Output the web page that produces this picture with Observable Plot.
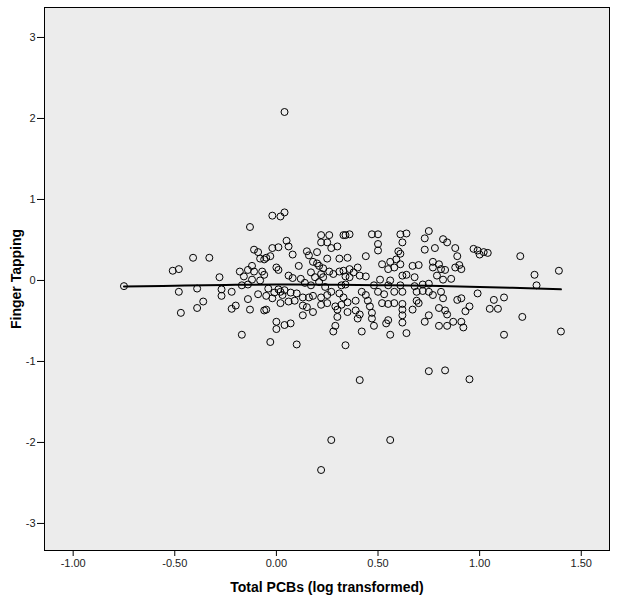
<!DOCTYPE html>
<html>
<head>
<meta charset="utf-8">
<script src="https://cdn.jsdelivr.net/npm/d3@7"></script>
<script src="https://cdn.jsdelivr.net/npm/@observablehq/plot@0.6"></script>
<style>
  html, body { margin: 0; padding: 0; background: #ffffff; }
  #chart { width: 617px; height: 603px; }
</style>
</head>
<body>
<div id="chart"></div>
<script>
// Total PCBs (log transformed) and Finger Tapping
const pcb = [
  -0.75,-0.41,-0.33,-0.51,-0.48,-0.28,-0.48,-0.39,-0.36,-0.39,-0.47,-0.27,-0.27,
  -0.13,-0.02,0.02,0.04,0.05,0.06,-0.02,0.01,-0.11,-0.09,0.08,-0.08,-0.06,-0.05,-0.03,
  0.22,0.26,0.22,0.25,0.27,0.30,0.33,0.15,0.16,0.20,0.11,0.25,0.31,0.18,0.20,0.21,0.23,
  0.00,0.01,-0.18,-0.14,-0.12,-0.11,-0.07,-0.06,-0.16,-0.12,-0.08,0.06,0.08,0.17,0.19,
  0.22,0.23,0.26,0.28,0.31,0.33,-0.17,-0.14,-0.22,-0.04,0.01,0.02,0.03,-0.01,0.04,
  -0.09,-0.05,-0.02,0.07,0.10,0.13,0.16,0.18,0.22,0.25,0.27,0.31,-0.14,-0.20,-0.22,
  -0.13,-0.06,-0.05,0.02,0.06,0.09,0.13,0.15,0.18,0.13,0.22,0.25,0.29,0.32,0.30,0.30,
  0.29,0.28,0.00,0.04,0.07,0.00,-0.17,-0.03,0.10,
  0.14,0.17,0.21,0.24,0.12,
  0.34,0.36,0.47,0.50,0.61,0.64,0.75,0.73,0.82,0.84,0.88,0.50,0.50,0.62,0.78,0.73,
  0.60,0.61,0.44,0.89,0.35,0.52,0.56,0.59,0.61,0.55,0.58,0.67,0.70,0.77,0.80,0.81,
  0.83,0.77,0.88,0.90,0.91,0.36,0.38,0.40,0.41,0.44,0.36,0.34,0.62,0.64,0.68,0.79,
  0.82,0.86,0.51,0.56,0.48,0.50,0.53,0.32,0.34,0.55,0.61,0.68,0.72,0.75,0.42,0.44,
  0.58,0.62,0.69,0.72,0.75,0.77,0.81,0.82,0.89,0.91,0.33,0.35,0.39,0.45,0.46,0.52,
  0.55,0.58,0.62,0.62,0.69,0.70,0.67,0.80,0.83,0.84,0.35,0.39,0.41,0.47,0.47,0.40,
  0.48,0.55,0.54,0.62,0.62,0.75,0.73,0.80,0.84,0.87,0.91,0.42,0.56,0.64,
  0.97,0.99,1.00,1.02,1.04,1.20,1.39,1.27,1.28,0.99,1.07,1.12,0.95,0.93,1.05,1.09,
  1.21,0.92,1.12,1.40,
  0.04,0.34,0.41,0.75,0.83,0.95,0.27,0.56,0.22
];
const tapping = [
  -0.07,0.28,0.28,0.12,0.14,0.04,-0.14,-0.10,-0.26,-0.34,-0.40,-0.11,-0.19,
  0.66,0.80,0.79,0.84,0.49,0.42,0.40,0.41,0.38,0.35,0.32,0.27,0.26,0.28,0.30,
  0.56,0.56,0.47,0.47,0.40,0.42,0.56,0.36,0.31,0.35,0.18,0.27,0.27,0.23,0.21,0.18,0.15,
  0.16,0.13,0.11,0.13,0.18,0.11,0.11,0.07,0.05,0.01,0.00,0.06,0.03,0.10,0.04,
  0.08,0.04,0.11,0.08,0.11,0.12,-0.06,-0.05,-0.14,-0.10,-0.11,-0.14,-0.18,-0.15,-0.12,
  -0.17,-0.19,-0.22,-0.15,-0.16,-0.21,-0.21,-0.19,-0.21,-0.18,-0.14,-0.16,-0.23,-0.31,-0.35,
  -0.36,-0.37,-0.36,-0.28,-0.26,-0.25,-0.31,-0.33,-0.39,-0.43,-0.30,-0.28,-0.32,-0.30,-0.36,-0.45,
  -0.56,-0.63,-0.51,-0.55,-0.53,-0.60,-0.67,-0.76,-0.79,
  -0.03,-0.06,-0.02,-0.08,0.02,
  0.56,0.57,0.57,0.57,0.57,0.58,0.61,0.52,0.51,0.47,0.40,0.45,0.37,0.47,0.40,0.38,
  0.36,0.33,0.30,0.30,0.28,0.20,0.23,0.26,0.20,0.14,0.16,0.18,0.19,0.23,0.20,0.14,
  0.13,0.16,0.16,0.19,0.14,0.14,0.10,0.16,0.06,0.05,0.04,0.05,0.06,0.07,0.04,0.06,
  0.01,0.02,0.01,0.00,-0.06,-0.14,-0.17,-0.06,-0.05,-0.06,-0.06,-0.07,-0.05,-0.04,-0.14,-0.18,
  -0.14,-0.14,-0.14,-0.13,-0.14,-0.18,-0.14,-0.22,-0.24,-0.22,-0.21,-0.27,-0.25,-0.25,-0.32,-0.28,
  -0.29,-0.28,-0.29,-0.36,-0.25,-0.28,-0.36,-0.34,-0.37,-0.42,-0.39,-0.37,-0.42,-0.40,-0.47,-0.47,
  -0.56,-0.49,-0.53,-0.43,-0.52,-0.43,-0.51,-0.56,-0.56,-0.51,-0.51,-0.63,-0.67,-0.65,
  0.39,0.37,0.32,0.35,0.34,0.30,0.12,0.07,-0.06,-0.16,-0.24,-0.21,-0.32,-0.38,-0.35,-0.35,
  -0.45,-0.58,-0.67,-0.63,
  2.08,-0.80,-1.23,-1.12,-1.11,-1.22,-1.97,-1.97,-2.34
];
// fitted line
const fitX = [-0.75,-0.5,-0.25,0,0.25,0.5,0.75,1.0,1.2,1.4];
const fitY = [-0.075,-0.065,-0.055,-0.05,-0.052,-0.058,-0.066,-0.08,-0.094,-0.11];
// ticks
const xTicks = [-1, -0.5, 0, 0.5, 1, 1.5];
const yTicks = [-3, -2, -1, 0, 1, 2, 3];

const points = pcb.map((x, i) => ({x, y: tapping[i]}));
const fit = fitX.map((x, i) => ({x, y: fitY[i]}));

const font = "'Liberation Sans', Arial, sans-serif";

const chart = Plot.plot({
  width: 617,
  height: 603,
  marginLeft: 44,
  marginRight: 8,
  marginTop: 7,
  marginBottom: 53,
  style: {fontFamily: font, background: "#ffffff", color: "#000"},
  x: {domain: [-1.141, 1.639], ticks: xTicks},
  y: {domain: [-3.334, 3.370], ticks: yTicks},
  marks: [
    Plot.frame({fill: "#ececec", stroke: null}),
    Plot.axisX({ticks: xTicks, tickSize: 6, tickPadding: 3, tickFormat: d => d.toFixed(2), fontSize: 11, label: null, stroke: "#000", strokeWidth: 1, fill: "#222"}),
    Plot.axisY({ticks: yTicks, tickSize: 7, tickPadding: 2, tickFormat: d => String(d), fontSize: 11, label: null, stroke: "#000", strokeWidth: 1, fill: "#222"}),
    Plot.line(fit, {x: "x", y: "y", stroke: "#000", strokeWidth: 2, curve: "natural"}),
    Plot.dot(points, {x: "x", y: "y", r: 3.5, stroke: "#000", strokeWidth: 1, fill: "none"}),
    Plot.frame({stroke: "#000", strokeWidth: 1}),
    Plot.text(["Total PCBs (log transformed)"], {frameAnchor: "bottom", dy: 37, textAnchor: "middle", lineAnchor: "middle", fontSize: 14, fontWeight: "bold", fill: "#000"}),
    Plot.text(["Finger Tapping"], {frameAnchor: "left", dx: -28, rotate: -90, textAnchor: "middle", lineAnchor: "middle", fontSize: 14, fontWeight: "bold", fill: "#000"})
  ]
});
document.getElementById("chart").appendChild(chart);
</script>
</body>
</html>
